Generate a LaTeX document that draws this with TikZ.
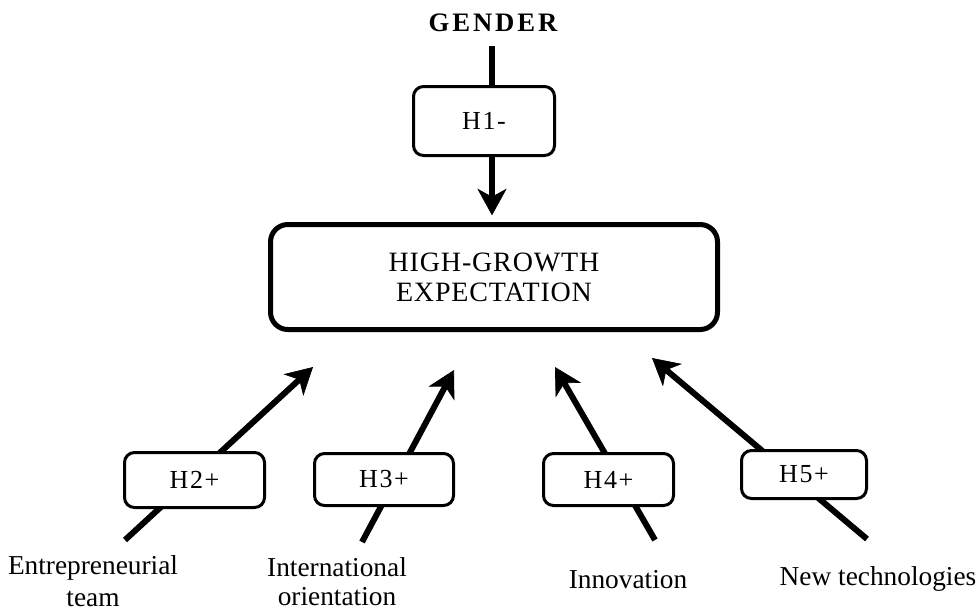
\documentclass[tikz,border=0pt]{standalone}
\usepackage{fontspec}
\setmainfont{Liberation Serif}
\usetikzlibrary{arrows.meta}
\begin{document}
\begin{tikzpicture}[x=0.75pt,y=-0.75pt,
  hbox/.style={draw, line width=2.25pt, rounded corners=7.5pt, fill=white, inner sep=0pt,
    font=\fontsize{19.5}{22}\selectfont\addfontfeatures{LetterSpace=6}},
  mainbox/.style={draw, line width=3.75pt, rounded corners=13pt, fill=white, inner sep=0pt,
    align=center, font=\fontsize{21}{22.5}\selectfont\addfontfeatures{LetterSpace=3}},
  caplabel/.style={inner sep=0pt, font=\bfseries\fontsize{20}{24}\selectfont\addfontfeatures{LetterSpace=11}},
  lbl/.style={inner sep=0pt, align=center, font=\fontsize{20.5}{24}\selectfont},
  arr/.style={line width=4.5pt, -{Stealth[length=20pt,width=22pt,inset=6pt,line width=0.5pt]}}
]
\path[use as bounding box, fill=white] (0,0) rectangle (980,612);

% central box
\node[mainbox, minimum width=335.25pt, minimum height=78.75pt] (main) at (494,277)
  {HIGH-GROWTH\\EXPECTATION};

% gender
\node[caplabel] (gender) at (493,22.5) {GENDER};
\coordinate (g1) at (492,46);
\coordinate (g2) at (492,224);
\draw[arr, shorten >=6.5pt] (g1) -- (g2);

% free ends and tips
\coordinate (s2) at (125,540); \coordinate (t2) at (313,367);
\coordinate (s3) at (362,542); \coordinate (t3) at (454,370);
\coordinate (s4) at (655,540); \coordinate (t4) at (555,367);
\coordinate (s5) at (867,539); \coordinate (t5) at (652,358);
\draw[arr] (s2) -- (t2);
\draw[arr] (s3) -- (t3);
\draw[arr] (s4) -- (t4);
\draw[arr] (s5) -- (t5);

% hypothesis boxes
\node[hbox, minimum width=105.75pt, minimum height=51.75pt] (h1) at (484,121) {H1-};
\node[hbox, minimum width=105pt, minimum height=41.25pt] (h2) at (194.5,480) {H2+};
\node[hbox, minimum width=104.25pt, minimum height=39pt] (h3) at (384,479.5) {H3+};
\node[hbox, minimum width=97.5pt, minimum height=39pt] (h4) at (608.5,479.5) {H4+};
\node[hbox, minimum width=93.75pt, minimum height=36pt] (h5) at (804,474.5) {H5+};

% labels
\node[lbl, anchor=north] (l2) at (93,555) {Entrepreneurial\\team};
\node[lbl, anchor=north, font=\fontsize{20.5}{22}\selectfont] (l3) at (337,557) {International\\orientation};
\node[lbl, anchor=base] (l4) at (628,588) {Innovation};
\node[lbl, anchor=base] (l5) at (878,585) {New technologies};
\end{tikzpicture}
\end{document}
